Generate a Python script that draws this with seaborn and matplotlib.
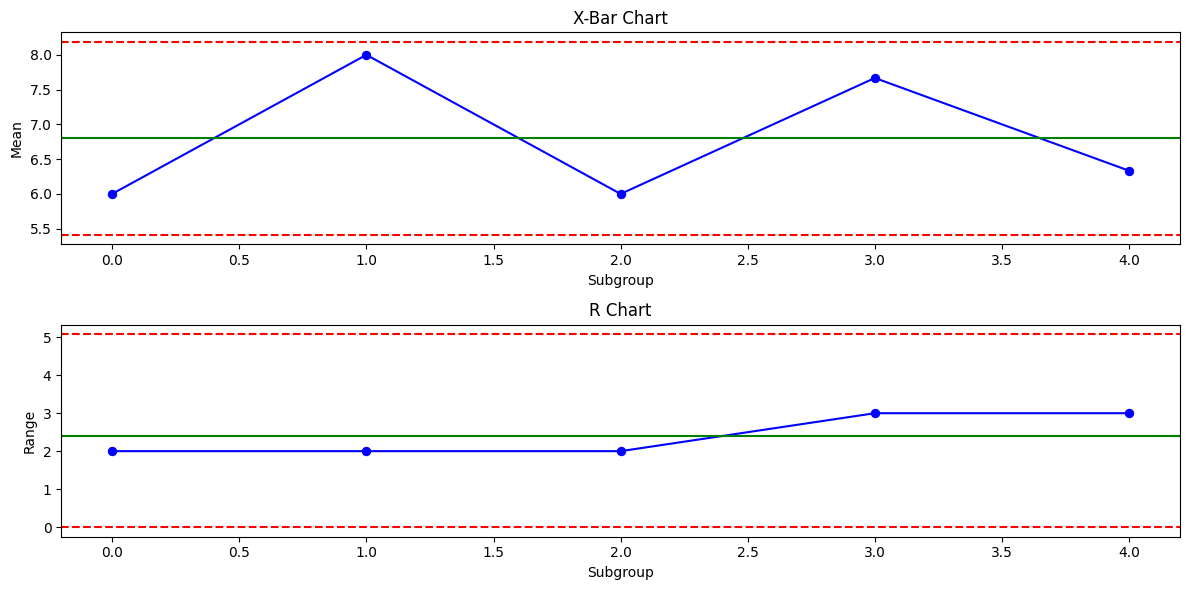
import matplotlib
matplotlib.use("Agg")
import matplotlib.pyplot as plt
import seaborn as sns
import numpy as np

subgroups = [0, 1, 2, 3, 4]
means = [6.0, 8.0, 6.0, 7.667, 6.333]
ranges = [2, 2, 2, 3, 3]

xbar_center = 6.8
xbar_ucl = 8.185
xbar_lcl = 5.415
r_center = 2.4
r_ucl = 5.074
r_lcl = 0.0

fig, axes = plt.subplots(2, 1, figsize=(12, 6), dpi=100)

ax = axes[0]
sns.lineplot(x=subgroups, y=means, marker='o', color='blue', markeredgecolor='blue',
             markersize=6, ax=ax)
ax.axhline(xbar_center, color='green')
ax.axhline(xbar_ucl, color='red', linestyle='--')
ax.axhline(xbar_lcl, color='red', linestyle='--')
ax.set_title('X-Bar Chart')
ax.set_xlabel('Subgroup')
ax.set_ylabel('Mean')

ax = axes[1]
sns.lineplot(x=subgroups, y=ranges, marker='o', color='blue', markeredgecolor='blue',
             markersize=6, ax=ax)
ax.axhline(r_center, color='green')
ax.axhline(r_ucl, color='red', linestyle='--')
ax.axhline(r_lcl, color='red', linestyle='--')
ax.set_title('R Chart')
ax.set_xlabel('Subgroup')
ax.set_ylabel('Range')

plt.tight_layout()
fig.savefig('out.png', dpi=100, bbox_inches='tight', pad_inches=0.1)
